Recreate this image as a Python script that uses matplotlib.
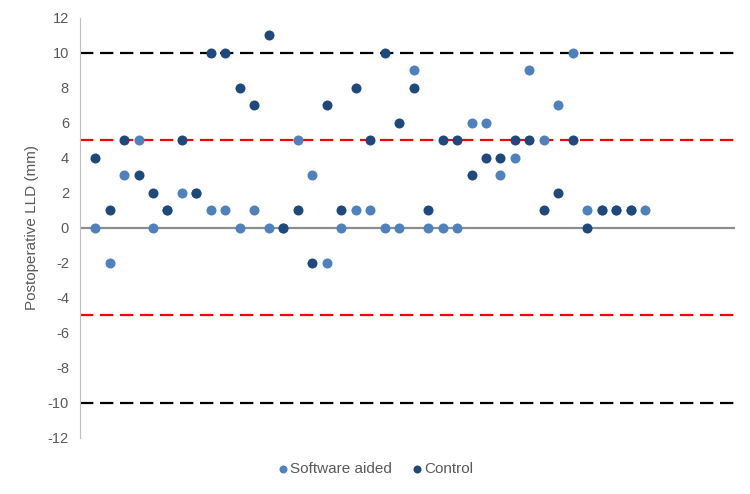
import numpy as np
import matplotlib.pyplot as plt

plt.rcParams['font.family'] = ['Liberation Sans', 'DejaVu Sans']

# patient index along x, LLD values in mm
patients = list(range(1, 40))
software_aided = [0, -2, 3, 5, 0, 1, 2, 2, 1, 1, 0, 1, 0, 0, 5, 3, -2, 0, 1, 1,
                  0, 0, 9, 0, 0, 0, 6, 6, 3, 4, 9, 5, 7, 10, 1, 1, 1, 1, 1]
control = [4, 1, 5, 3, 2, 1, 5, 2, 10, 10, 8, 7, 11, 0, 1, -2, 7, 1, 8, 5,
           10, 6, 8, 1, 5, 5, 3, 4, 4, 5, 5, 1, 2, 5, 0, 1, 1, 1, np.nan]
red_limits = [5, -5]
black_limits = [10, -10]
yticks = list(range(-12, 13, 2))

light = '#4f81bd'
dark = '#1f497d'
grey_txt = '#595959'

fig = plt.figure(figsize=(7.5, 4.94), dpi=100)
ax = fig.add_axes([0.1067, 0.1134, 0.8733, 0.8502])

ax.axhline(0, color='#8c8c8c', lw=1.6, zorder=1)
for v in red_limits:
    ax.axhline(v, color='#ff0000', lw=1.6, ls=(0, (6, 3)), zorder=1)
for v in black_limits:
    ax.axhline(v, color='#000000', lw=1.6, ls=(0, (6, 3)), zorder=1)

ax.scatter(patients, software_aided, s=52, color=light, zorder=3,
           label='Software aided', linewidths=0)
ax.scatter(patients, control, s=52, color=dark, zorder=4,
           label='Control', linewidths=0)

ax.set_xlim(-0.04, 45.2)
ax.set_ylim(-12, 12)
ax.set_yticks(yticks)
ax.set_yticklabels([str(t) for t in yticks], color=grey_txt, fontsize=10.5)
ax.set_xticks([])
ax.tick_params(axis='y', length=0, pad=8)
for s in ['top', 'right', 'bottom']:
    ax.spines[s].set_visible(False)
ax.spines['left'].set_color('#bfbfbf')
ax.set_ylabel('Postoperative LLD (mm)', color=grey_txt, fontsize=11, labelpad=6)

fig.legend(loc='center', bbox_to_anchor=(0.5, 0.05), ncol=2, frameon=False,
           fontsize=11, handlelength=0.8, handletextpad=0.1, columnspacing=1.2,
           markerscale=0.8, labelcolor=grey_txt)

fig.savefig('out.png', dpi=100)
